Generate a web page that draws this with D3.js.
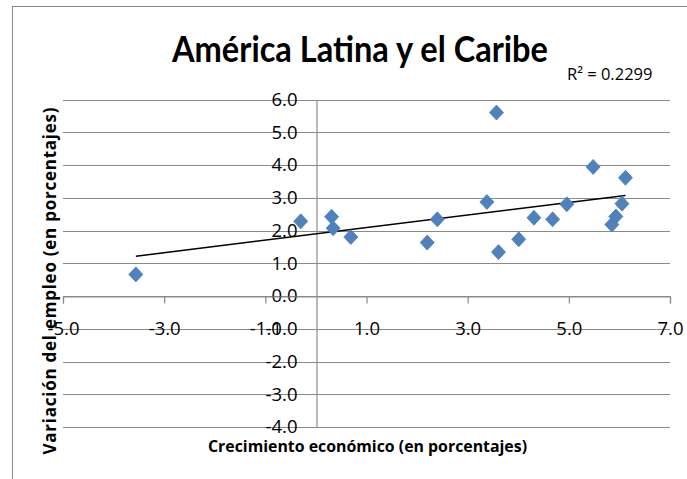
<!DOCTYPE html>
<html>
<head>
<meta charset="utf-8">
<script src="https://cdn.jsdelivr.net/npm/d3@7"></script>
<style>
    body { margin: 0; background: #fff; }
    text { font-family: "Open Sans", sans-serif; fill: #000; }
</style>
</head>
<body>
<div id="scatter-vis"></div>
<script>
// Crecimiento economico (x) y variacion del empleo (y), en porcentajes
let growth = [-3.56, -0.30, 0.31, 0.34, 0.69, 2.20, 2.40, 3.38, 3.57, 3.61, 4.01, 4.31, 4.68, 4.96, 5.48, 5.85, 5.93, 6.05, 6.12];
let employment = [0.66, 2.28, 2.42, 2.07, 1.80, 1.63, 2.34, 2.87, 5.60, 1.34, 1.73, 2.39, 2.34, 2.80, 3.94, 2.18, 2.43, 2.82, 3.61];

// linea de tendencia lineal
let trendSlope = 0.192;
let trendIntercept = 1.897;
let rSquaredLabel = "R² = 0.2299";

let xTicks = [-5, -3, -1, 1, 3, 5, 7];
let yTicks = [-4, -3, -2, -1, 0, 1, 2, 3, 4, 5, 6];

let chartTitle = "América Latina y el Caribe";
let xTitle = "Crecimiento económico  (en porcentajes)";
let yTitle = "Variación del empleo (en porcentajes)";

/**
 * Constructor for the ScatterVis
 */
function ScatterVis(){
    let self = this;

    self.init();
};

/**
 * Initializes the svg elements
 */
ScatterVis.prototype.init = function(){
    let self = this;
    self.svgWidth = 687;
    self.svgHeight = 479;

    self.svg = d3.select("#scatter-vis").append("svg")
        .attr("width", self.svgWidth)
        .attr("height", self.svgHeight);

    // outer chart border, runs off the right and bottom edges
    self.svg.append("rect")
        .attr("x", 12.5).attr("y", 6.5)
        .attr("width", 700).attr("height", 500)
        .style("fill", "none").style("stroke", "#8a8a8a").style("stroke-width", 1);

    self.x = d3.scaleLinear().domain([-5, 7]).range([63, 670]);
    self.y = d3.scaleLinear().domain([-4, 6]).range([427, 99.5]);

    self.fmt = d3.formatLocale({decimal: ".", thousands: ",", grouping: [3], currency: ["", ""], minus: "-"}).format(".1f");

    self.update();
};

/**
 * Draws axes, points, trend line and texts
 */
ScatterVis.prototype.update = function(){
    let self = this;
    let x = self.x, y = self.y;

    // horizontal gridlines
    self.svg.append("g").selectAll("line")
        .data(yTicks).enter().append("line")
        .attr("x1", x(-5)).attr("x2", x(7))
        .attr("y1", d => Math.round(y(d)) + 0.5).attr("y2", d => Math.round(y(d)) + 0.5)
        .style("stroke", "#8a8a8a").style("stroke-width", 1.2);

    // y axis at x = 0
    let yAxis = d3.axisLeft(y).tickValues(yTicks).tickSize(0).tickPadding(19).tickFormat(self.fmt);
    let gy = self.svg.append("g")
        .attr("transform", "translate(" + (Math.round(x(0)) + 0.5) + ",0)")
        .call(yAxis);
    gy.select(".domain").style("stroke", "#8a8a8a").style("stroke-width", 1.2);
    gy.selectAll("text").style("font-size", "18.5px");

    // x axis at y = 0
    let xAxis = d3.axisBottom(x).tickValues(xTicks).tickSize(7).tickSizeOuter(7).tickPadding(18).tickFormat(self.fmt);
    let gx = self.svg.append("g")
        .attr("transform", "translate(0," + (Math.round(y(0)) + 0.5) + ")")
        .call(xAxis);
    gx.select(".domain").style("stroke", "#8a8a8a").style("stroke-width", 1.2);
    gx.selectAll("line").style("stroke", "#8a8a8a").style("stroke-width", 1.2);
    gx.selectAll("text").style("font-size", "18.5px");

    // trend line
    let xMin = d3.min(growth), xMax = d3.max(growth);
    self.svg.append("line")
        .attr("x1", x(xMin)).attr("y1", y(trendIntercept + trendSlope * xMin))
        .attr("x2", x(xMax)).attr("y2", y(trendIntercept + trendSlope * xMax))
        .style("stroke", "#000").style("stroke-width", 1.5);

    // diamond markers
    let points = growth.map((g, i) => [g, employment[i]]);
    self.svg.append("g").selectAll("path")
        .data(points).enter().append("path")
        .attr("d", "M0,-7.5L7,0L0,7.5L-7,0Z")
        .attr("transform", d => "translate(" + x(d[0]) + "," + y(d[1]) + ")")
        .style("fill", "#4f81bd").style("stroke", "#4a7ebb").style("stroke-width", 0.8);

    // titles
    self.svg.append("text")
        .attr("x", 360).attr("y", 62)
        .attr("text-anchor", "middle")
        .attr("textLength", 376).attr("lengthAdjust", "spacingAndGlyphs")
        .style("font-family", "Lato, sans-serif")
        .style("font-size", "37px").style("font-weight", "bold")
        .text(chartTitle);

    self.svg.append("text")
        .attr("x", 567).attr("y", 80)
        .style("font-size", "16.5px")
        .text(rSquaredLabel);

    self.svg.append("text")
        .attr("x", 367.5).attr("y", 452)
        .attr("text-anchor", "middle")
        .attr("textLength", 319).attr("lengthAdjust", "spacingAndGlyphs")
        .style("font-size", "16px").style("font-weight", "bold")
        .text(xTitle);

    self.svg.append("text")
        .attr("transform", "translate(56,281) rotate(-90)")
        .attr("text-anchor", "middle")
        .attr("textLength", 347).attr("lengthAdjust", "spacing")
        .style("font-size", "17px").style("font-weight", "bold")
        .text(yTitle);
};

let scatterVis = new ScatterVis();
</script>
</body>
</html>
